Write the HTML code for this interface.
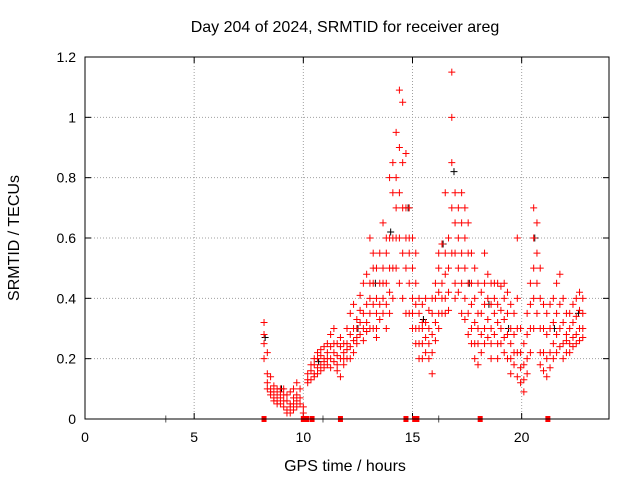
<!DOCTYPE html>
<html><head><meta charset="utf-8"><style>
body{margin:0;background:#fff;}
svg text{font-family:"Liberation Sans",sans-serif;fill:#000;}
</style></head><body>
<svg id="chart" width="640" height="480" xmlns="http://www.w3.org/2000/svg">
<rect width="640" height="480" fill="#fff"/>
<text x="345" y="32" text-anchor="middle" font-size="16">Day 204 of 2024, SRMTID for receiver areg</text>
<text x="345" y="471" text-anchor="middle" font-size="16">GPS time / hours</text>
<text transform="translate(19,238) rotate(-90)" text-anchor="middle" font-size="16">SRMTID / TECUs</text>
<g id="grid"></g><g id="axes"></g><g id="black"></g><g id="red"></g>
<rect x="85" y="57" width="524" height="362" fill="none" stroke="#000" stroke-width="1"/>
</svg>
<script>
const xTicks=[0,5,10,15,20];
const yTicks=[0,0.2,0.4,0.6,0.8,1,1.2];
const yTickLabels=["0","0.2","0.4","0.6","0.8","1","1.2"];
const times=[8.2,8.35,8.5,8.65,8.8,8.95,9.1,9.25,9.4,9.55,9.7,9.85,10.0,10.2,10.35,10.5,10.65,10.8,10.95,11.1,11.25,11.4,11.55,11.7,11.85,12.0,12.15,12.3,12.45,12.6,12.75,12.9,13.05,13.2,13.35,13.5,13.65,13.8,13.95,14.1,14.25,14.4,14.55,14.7,14.85,15.0,15.15,15.3,15.45,15.6,15.75,15.9,16.05,16.2,16.35,16.5,16.65,16.8,16.95,17.1,17.25,17.4,17.55,17.7,17.85,18.0,18.15,18.3,18.45,18.6,18.75,18.9,19.05,19.2,19.35,19.5,19.65,19.8,19.95,20.1,20.25,20.4,20.55,20.7,20.85,21.0,21.15,21.3,21.45,21.6,21.75,21.9,22.05,22.2,22.35,22.5,22.65,22.8];
const redValues=[[0.32,0.28,0.25,0.2],[0.22,0.15,0.12,0.1],[0.1,0.08,0.14,0.09],[0.09,0.07,0.11,0.06],[0.08,0.06,0.1,0.05],[0.1,0.07,0.05,0.09],[0.08,0.04,0.06,0.1],[0.06,0.03,0.08,0.02],[0.05,0.02,0.09,0.04],[0.07,0.03,0.1,0.05],[0.06,0.04,0.08,0.12],[0.05,0.1,0.07],[0.02,0.04],[0.13,0.15,0.12],[0.16,0.13,0.18],[0.15,0.18,0.2,0.14],[0.17,0.2,0.15,0.22],[0.18,0.21,0.16,0.23],[0.2,0.17,0.24,0.19],[0.22,0.18,0.25,0.2],[0.2,0.24,0.17,0.28],[0.22,0.19,0.3,0.25],[0.21,0.16,0.25,0.18],[0.2,0.24,0.14,0.27],[0.22,0.18,0.25,0.2],[0.2,0.25,0.3,0.23],[0.24,0.28,0.35,0.2],[0.22,0.26,0.38,0.3],[0.3,0.25,0.33,0.27],[0.32,0.28,0.36,0.41],[0.35,0.3,0.26,0.45],[0.38,0.32,0.29,0.48],[0.4,0.35,0.3,0.6,0.45],[0.45,0.38,0.3,0.55,0.5],[0.4,0.35,0.27,0.5,0.3],[0.45,0.38,0.55,0.33],[0.5,0.4,0.65,0.35,0.45],[0.55,0.45,0.6,0.38,0.3],[0.6,0.5,0.8,0.42,0.35],[0.75,0.6,0.85,0.5,0.4],[0.8,0.7,0.95,0.6,0.5],[1.09,0.9,0.75,0.6,0.45],[1.05,0.85,0.7,0.55,0.4],[0.88,0.7,0.6,0.5,0.35],[0.7,0.6,0.55,0.45,0.35],[0.6,0.5,0.4,0.35,0.3],[0.45,0.38,0.3,0.25,0.55],[0.35,0.3,0.25,0.2,0.4],[0.38,0.3,0.25,0.2,0.32],[0.4,0.32,0.27,0.22],[0.36,0.3,0.25,0.2],[0.35,0.28,0.22,0.15,0.4],[0.4,0.32,0.26,0.45],[0.5,0.42,0.35,0.55,0.3],[0.58,0.45,0.4,0.35],[0.55,0.48,0.4,0.35,0.75],[0.6,0.5,0.42,0.36],[1.15,1.0,0.85,0.7,0.55],[0.75,0.65,0.55,0.45,0.4],[0.7,0.6,0.5,0.42],[0.75,0.65,0.55,0.45,0.35],[0.7,0.6,0.5,0.4,0.33],[0.65,0.55,0.45,0.35,0.28],[0.55,0.45,0.38,0.3,0.25],[0.5,0.4,0.32,0.25,0.2],[0.45,0.35,0.3,0.25,0.18],[0.42,0.35,0.28,0.22],[0.55,0.45,0.38,0.3,0.25],[0.48,0.4,0.33,0.27],[0.45,0.38,0.3,0.25,0.2],[0.45,0.4,0.35,0.28],[0.45,0.38,0.32,0.25,0.2],[0.44,0.36,0.3,0.25],[0.45,0.4,0.33,0.27,0.22],[0.42,0.35,0.28,0.2],[0.38,0.3,0.25,0.2,0.15],[0.35,0.28,0.22,0.18],[0.6,0.4,0.3,0.22,0.14],[0.3,0.22,0.17,0.12],[0.25,0.18,0.13,0.09],[0.35,0.28,0.2,0.15],[0.45,0.38,0.3,0.22],[0.7,0.6,0.5,0.4,0.3],[0.65,0.55,0.45,0.35],[0.5,0.4,0.3,0.22,0.18],[0.38,0.3,0.22,0.16],[0.35,0.28,0.2,0.14],[0.38,0.3,0.22,0.17],[0.4,0.32,0.25,0.2],[0.45,0.35,0.28,0.22],[0.48,0.38,0.3,0.24],[0.4,0.32,0.25,0.2],[0.35,0.28,0.22,0.26],[0.35,0.3,0.25,0.22],[0.38,0.32,0.27,0.24],[0.4,0.34,0.28,0.25],[0.42,0.36,0.3,0.26],[0.4,0.35,0.3,0.27]];
const blackTimes=[8.25,9.0,10.7,12.5,13.3,14.0,14.8,15.5,16.4,16.9,17.6,18.5,19.4,20.6,21.5,22.6];
const blackValues=[0.27,0.1,0.19,0.3,0.45,0.62,0.7,0.33,0.58,0.82,0.45,0.38,0.3,0.6,0.3,0.35];
const zeroTimes=[8.2,10.0,10.15,10.4,11.7,14.7,15.1,15.2,18.1,21.2];
const grayZeroTimes=[3.7,10.9,16.2];

const X=t=>85+t*(524/24);
const Y=v=>419-v*(362/1.2);
const NS="http://www.w3.org/2000/svg";
function mk(tag,attrs,parent){const e=document.createElementNS(NS,tag);for(const k in attrs)e.setAttribute(k,attrs[k]);parent.appendChild(e);return e;}
const grid=document.getElementById('grid'),axes=document.getElementById('axes');
xTicks.forEach(t=>{
  const x=X(t);
  if(t>0){const g=mk('line',{x1:x,x2:x,y1:57,y2:419,stroke:'#a0a0a0','stroke-dasharray':'1,2'},grid);
  
  }
  mk('line',{x1:x,x2:x,y1:419,y2:413,stroke:'#000'},axes);
  mk('line',{x1:x,x2:x,y1:57,y2:63,stroke:'#000'},axes);
  const tx=mk('text',{x:x,y:442,'text-anchor':'middle','font-size':'14'},axes);
  tx.textContent=t;
  
  
});
yTicks.forEach((v,i)=>{
  const y=Y(v);
  if(v>0&&v<1.2){const g=mk('line',{x1:85,x2:609,y1:y,y2:y,stroke:'#a0a0a0','stroke-dasharray':'1,2'},grid);
  
  }
  mk('line',{x1:85,x2:91,y1:y,y2:y,stroke:'#000'},axes);
  mk('line',{x1:603,x2:609,y1:y,y2:y,stroke:'#000'},axes);
  const tx=mk('text',{x:76,y:y+5,'text-anchor':'end','font-size':'14'},axes);
  tx.textContent=yTickLabels[i];
  
  
});
function cross(t,v,color,parent,name){
  const x=X(t),y=Y(v);
  const p=mk('path',{d:`M${x-3.5},${y}h7M${x},${y-3.5}v7`,stroke:color,'stroke-width':'1',fill:'none'},parent);
  
  
}
const black=document.getElementById('black'),red=document.getElementById('red');
blackTimes.forEach((t,i)=>cross(t,blackValues[i],'#000',black,'black-point'));
grayZeroTimes.forEach(t=>cross(t,0,'#555',black,'gray-zero-point'));
times.forEach((t,i)=>redValues[i].forEach(v=>cross(t,v,'#ff0000',red,'red-point')));
zeroTimes.forEach(t=>{
  const r=mk('rect',{x:X(t)-2.5,y:Y(0)-3,width:5,height:6,fill:'#ff0000'},red);
  
  
});
</script>
</body></html>
